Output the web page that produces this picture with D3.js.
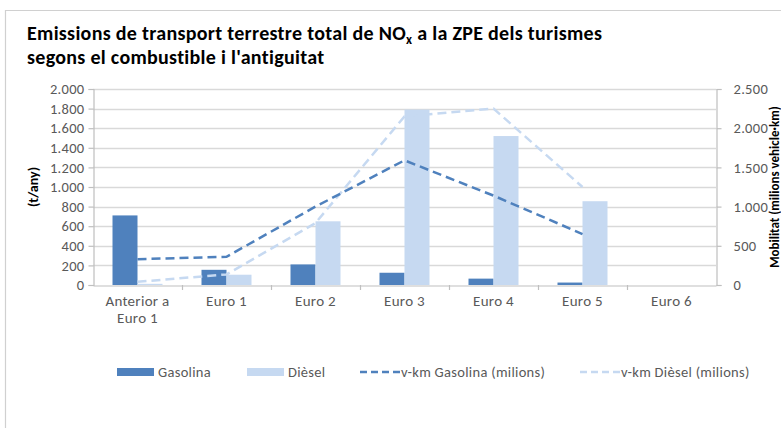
<!DOCTYPE html>
<html>
<head>
<meta charset="utf-8">
<script src="https://cdn.jsdelivr.net/npm/d3@7"></script>
<style>
  html, body { margin: 0; padding: 0; background: #fff; }
  svg { display: block; font-family: Carlito, Lato, "Open Sans", sans-serif; }
</style>
</head>
<body>
<svg id="chart" width="781" height="428"></svg>
<script>
const categories = [["Anterior a", "Euro 1"], ["Euro 1"], ["Euro 2"], ["Euro 3"], ["Euro 4"], ["Euro 5"], ["Euro 6"]];
const categoryKeys = ["Anterior a Euro 1", "Euro 1", "Euro 2", "Euro 3", "Euro 4", "Euro 5", "Euro 6"];
const gasolina = [710, 155, 210, 125, 65, 25, null];
const diesel = [12, 105, 650, 1790, 1520, 855, null];
const vkmGasolina = [330, 360, 1000, 1590, 1140, 650, null];
const vkmDiesel = [40, 135, 790, 2150, 2250, 1250, null];
const leftTicks = [0, 200, 400, 600, 800, 1000, 1200, 1400, 1600, 1800, 2000];
const rightTicks = [0, 500, 1000, 1500, 2000, 2500];
const seriesNames = ["Gasolina", "Dièsel", "v-km Gasolina (milions)", "v-km Dièsel (milions)"];
const titleLines = ["Emissions de transport terrestre total de NO", "segons el combustible i l'antiguitat"];

const C_GAS = "#4f81bd", C_DIE = "#c6d9f1", GRID = "#d9d9d9", AXIS = "#bfbfbf", TXT = "#595959";

const svg = d3.select("#chart");
const fmt = v => d3.format(",")(v).replace(/,/g, ".");

// frame
svg.append("path").attr("d", "M5.5,428 L5.5,10.5 L781,10.5").attr("fill", "none").attr("stroke", "#d0d0d0").attr("stroke-width", 1.2);

// title
const t1 = svg.append("text").attr("x", 27).attr("y", 40).attr("font-size", 20).attr("font-weight", "bold").attr("letter-spacing", 0.3).attr("fill", "#000");
t1.append("tspan").text(titleLines[0]);
t1.append("tspan").attr("font-size", 13).attr("dy", 4).text("x");
t1.append("tspan").attr("dy", -4).text(" a la ZPE dels turismes");
svg.append("text").attr("x", 27).attr("y", 64).attr("font-size", 20).attr("font-weight", "bold").attr("letter-spacing", 0.3).attr("fill", "#000").text(titleLines[1]);

const x0 = 93, x1 = 716, yTop = 89, yBot = 285;
const xc = d3.scaleBand().domain(categoryKeys).range([x0, x1]);
const yL = d3.scaleLinear().domain([0, 2000]).range([yBot, yTop]);
const yR = d3.scaleLinear().domain([0, 2500]).range([yBot, yTop]);

// gridlines
svg.append("g").selectAll("line").data(leftTicks.slice(1)).join("line")
  .attr("x1", x0).attr("x2", x1).attr("y1", d => Math.round(yL(d)) + 0.5).attr("y2", d => Math.round(yL(d)) + 0.5)
  .attr("stroke", GRID).attr("stroke-width", 1.3);

// bars
const bars = svg.append("g");
categoryKeys.forEach((k, i) => {
  if (gasolina[i] != null) bars.append("rect").attr("x", xc(k) + (xc.bandwidth() - 50) / 2).attr("width", 25)
    .attr("y", yL(gasolina[i])).attr("height", yBot - yL(gasolina[i])).attr("fill", C_GAS);
  if (diesel[i] != null) bars.append("rect").attr("x", xc(k) + (xc.bandwidth() - 50) / 2 + 25).attr("width", 25)
    .attr("y", yL(diesel[i])).attr("height", yBot - yL(diesel[i])).attr("fill", C_DIE);
});

// axes
const leftAxis = d3.axisLeft(yL).tickValues(leftTicks).tickFormat(fmt).tickSize(5).tickPadding(4);
const gl = svg.append("g").attr("transform", `translate(${x0 + 0.5},0)`).call(leftAxis);
const rightAxis = d3.axisRight(yR).tickValues(rightTicks).tickFormat(fmt).tickSize(5).tickPadding(12);
const gr = svg.append("g").attr("transform", `translate(${x1 + 0.5},0)`).call(rightAxis);
const bottomAxis = d3.axisBottom(xc).tickValues([]).tickSizeOuter(0);
const gb = svg.append("g").attr("transform", `translate(0,${yBot + 0.5})`).call(bottomAxis);
[gl, gr, gb].forEach(g => {
  g.selectAll("path.domain").attr("stroke", AXIS).attr("stroke-width", 1.2);
  g.selectAll(".tick line").attr("stroke", AXIS).attr("stroke-width", 1.2);
  g.selectAll("text").attr("font-size", 14.5).attr("letter-spacing", 0.3).attr("fill", TXT).attr("font-family", "Carlito, Lato, 'Open Sans', sans-serif");
});
gr.selectAll("text").attr("text-anchor", "start");
// category boundary ticks
svg.append("g").selectAll("line").data(categoryKeys.slice(1)).join("line")
  .attr("x1", d => Math.round(xc(d)) + 0.5).attr("x2", d => Math.round(xc(d)) + 0.5)
  .attr("y1", yBot).attr("y2", yBot + 5).attr("stroke", AXIS).attr("stroke-width", 1.2);
// category labels
const cl = svg.append("g");
categories.forEach((lines, i) => {
  const tx = cl.append("text").attr("x", xc(categoryKeys[i]) + xc.bandwidth() / 2).attr("y", 306)
    .attr("text-anchor", "middle").attr("font-size", 15).attr("letter-spacing", 0.3).attr("fill", TXT);
  lines.forEach((l, j) => tx.append("tspan").attr("x", xc(categoryKeys[i]) + xc.bandwidth() / 2).attr("dy", j ? 17 : 0).text(l));
});

// lines
const mkLine = d3.line().defined(d => d.v != null).x(d => xc(d.k) + xc.bandwidth() / 2).y(d => yR(d.v));
svg.append("path").datum(categoryKeys.map((k, i) => ({ k, v: vkmDiesel[i] })))
  .attr("d", mkLine).attr("fill", "none").attr("stroke", C_DIE).attr("stroke-width", 2.5).attr("stroke-dasharray", "9,5");
svg.append("path").datum(categoryKeys.map((k, i) => ({ k, v: vkmGasolina[i] })))
  .attr("d", mkLine).attr("fill", "none").attr("stroke", C_GAS).attr("stroke-width", 2.5).attr("stroke-dasharray", "9,5");

// axis titles
svg.append("text").attr("transform", "translate(38,187) rotate(-90)").attr("text-anchor", "middle")
  .attr("font-size", 14).attr("font-weight", "bold").attr("fill", "#000").text("(t/any)");
svg.append("text").attr("transform", "translate(779,187) rotate(-90)").attr("text-anchor", "middle")
  .attr("font-size", 13).attr("font-weight", "bold").attr("fill", "#000").text("Mobilitat (milions vehicle·km)");

// legend
const lg = svg.append("g").attr("font-size", 14.5).attr("letter-spacing", 0.3).attr("fill", TXT);
const ly = 372;
lg.append("rect").attr("x", 117).attr("y", ly - 4).attr("width", 37).attr("height", 8).attr("fill", C_GAS);
lg.append("text").attr("x", 158).attr("y", ly + 5).attr("fill", TXT).text(seriesNames[0]);
lg.append("rect").attr("x", 247).attr("y", ly - 4).attr("width", 37).attr("height", 8).attr("fill", C_DIE);
lg.append("text").attr("x", 288).attr("y", ly + 5).attr("fill", TXT).text(seriesNames[1]);
lg.append("line").attr("x1", 360).attr("x2", 400).attr("y1", ly).attr("y2", ly).attr("stroke", C_GAS).attr("stroke-width", 2.5).attr("stroke-dasharray", "7,4");
lg.append("text").attr("x", 401).attr("y", ly + 5).attr("fill", TXT).text(seriesNames[2]);
lg.append("line").attr("x1", 580).attr("x2", 620).attr("y1", ly).attr("y2", ly).attr("stroke", C_DIE).attr("stroke-width", 2.5).attr("stroke-dasharray", "7,4");
lg.append("text").attr("x", 621).attr("y", ly + 5).attr("fill", TXT).text(seriesNames[3]);
</script>
</body>
</html>
